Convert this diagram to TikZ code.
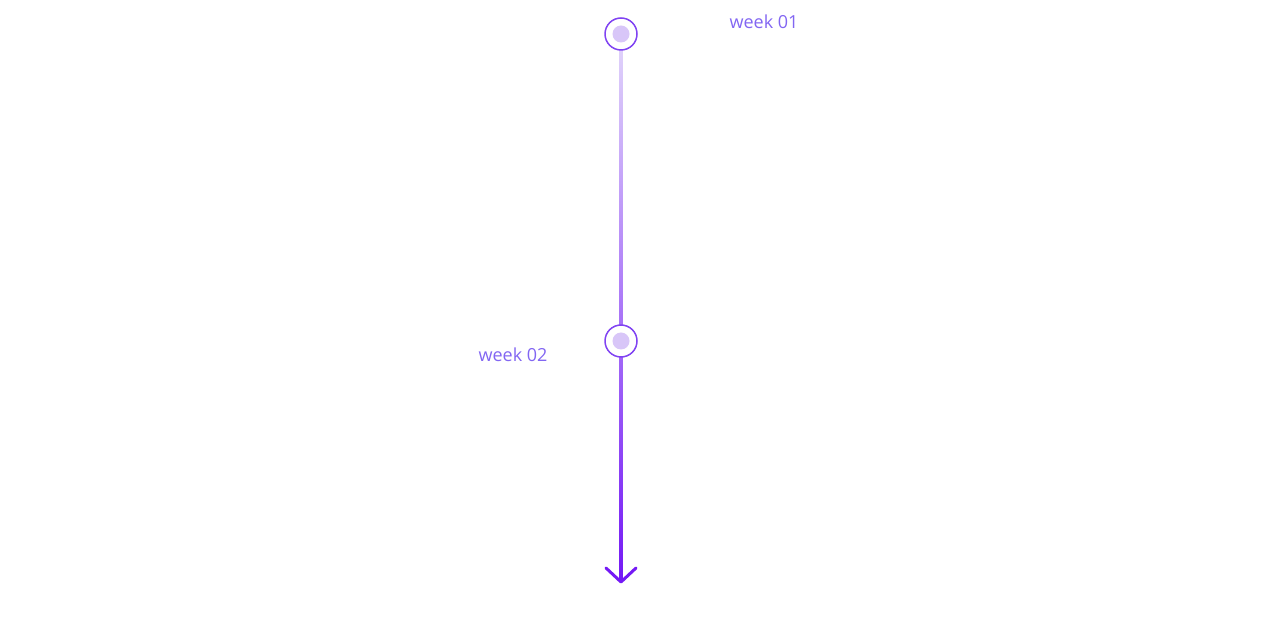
\documentclass[tikz,border=0pt]{standalone}
\usepackage{fontspec}
\setmainfont{Open Sans}
\definecolor{ring}{HTML}{8043F2}
\definecolor{dot}{HTML}{D8C6F8}
\definecolor{lbl}{HTML}{8266F2}
\definecolor{lineTop}{HTML}{E2D6FA}
\definecolor{lineBot}{HTML}{7419F5}
\begin{document}
\begin{tikzpicture}[x=1pt,y=1pt,
  milestone/.style={circle,draw=ring,line width=1.5pt,fill=white,minimum size=32pt,inner sep=0pt},
  core/.style={circle,fill=dot,minimum size=17pt,inner sep=0pt},
  label/.style={text=lbl,font=\fontsize{18}{20}\selectfont}]
\useasboundingbox (0,0) rectangle (1280,643);
\coordinate (top) at (621,609);
\coordinate (end) at (621,61);
\shade[top color=lineTop,bottom color=lineBot] (619.5,609) rectangle (622.5,62);
\draw[lineBot,line width=3pt,line cap=round,line join=round] (606,75) -- (end) -- (636,75);
\node[milestone] (c1) at (top) {};
\node[core] at (c1) {};
\node[milestone] (c2) at (621,302) {};
\node[core] at (c2) {};
\node[label] (l1) at (764,621) {week 01};
\node[label] (l2) at (513,288) {week 02};
\end{tikzpicture}
\end{document}
